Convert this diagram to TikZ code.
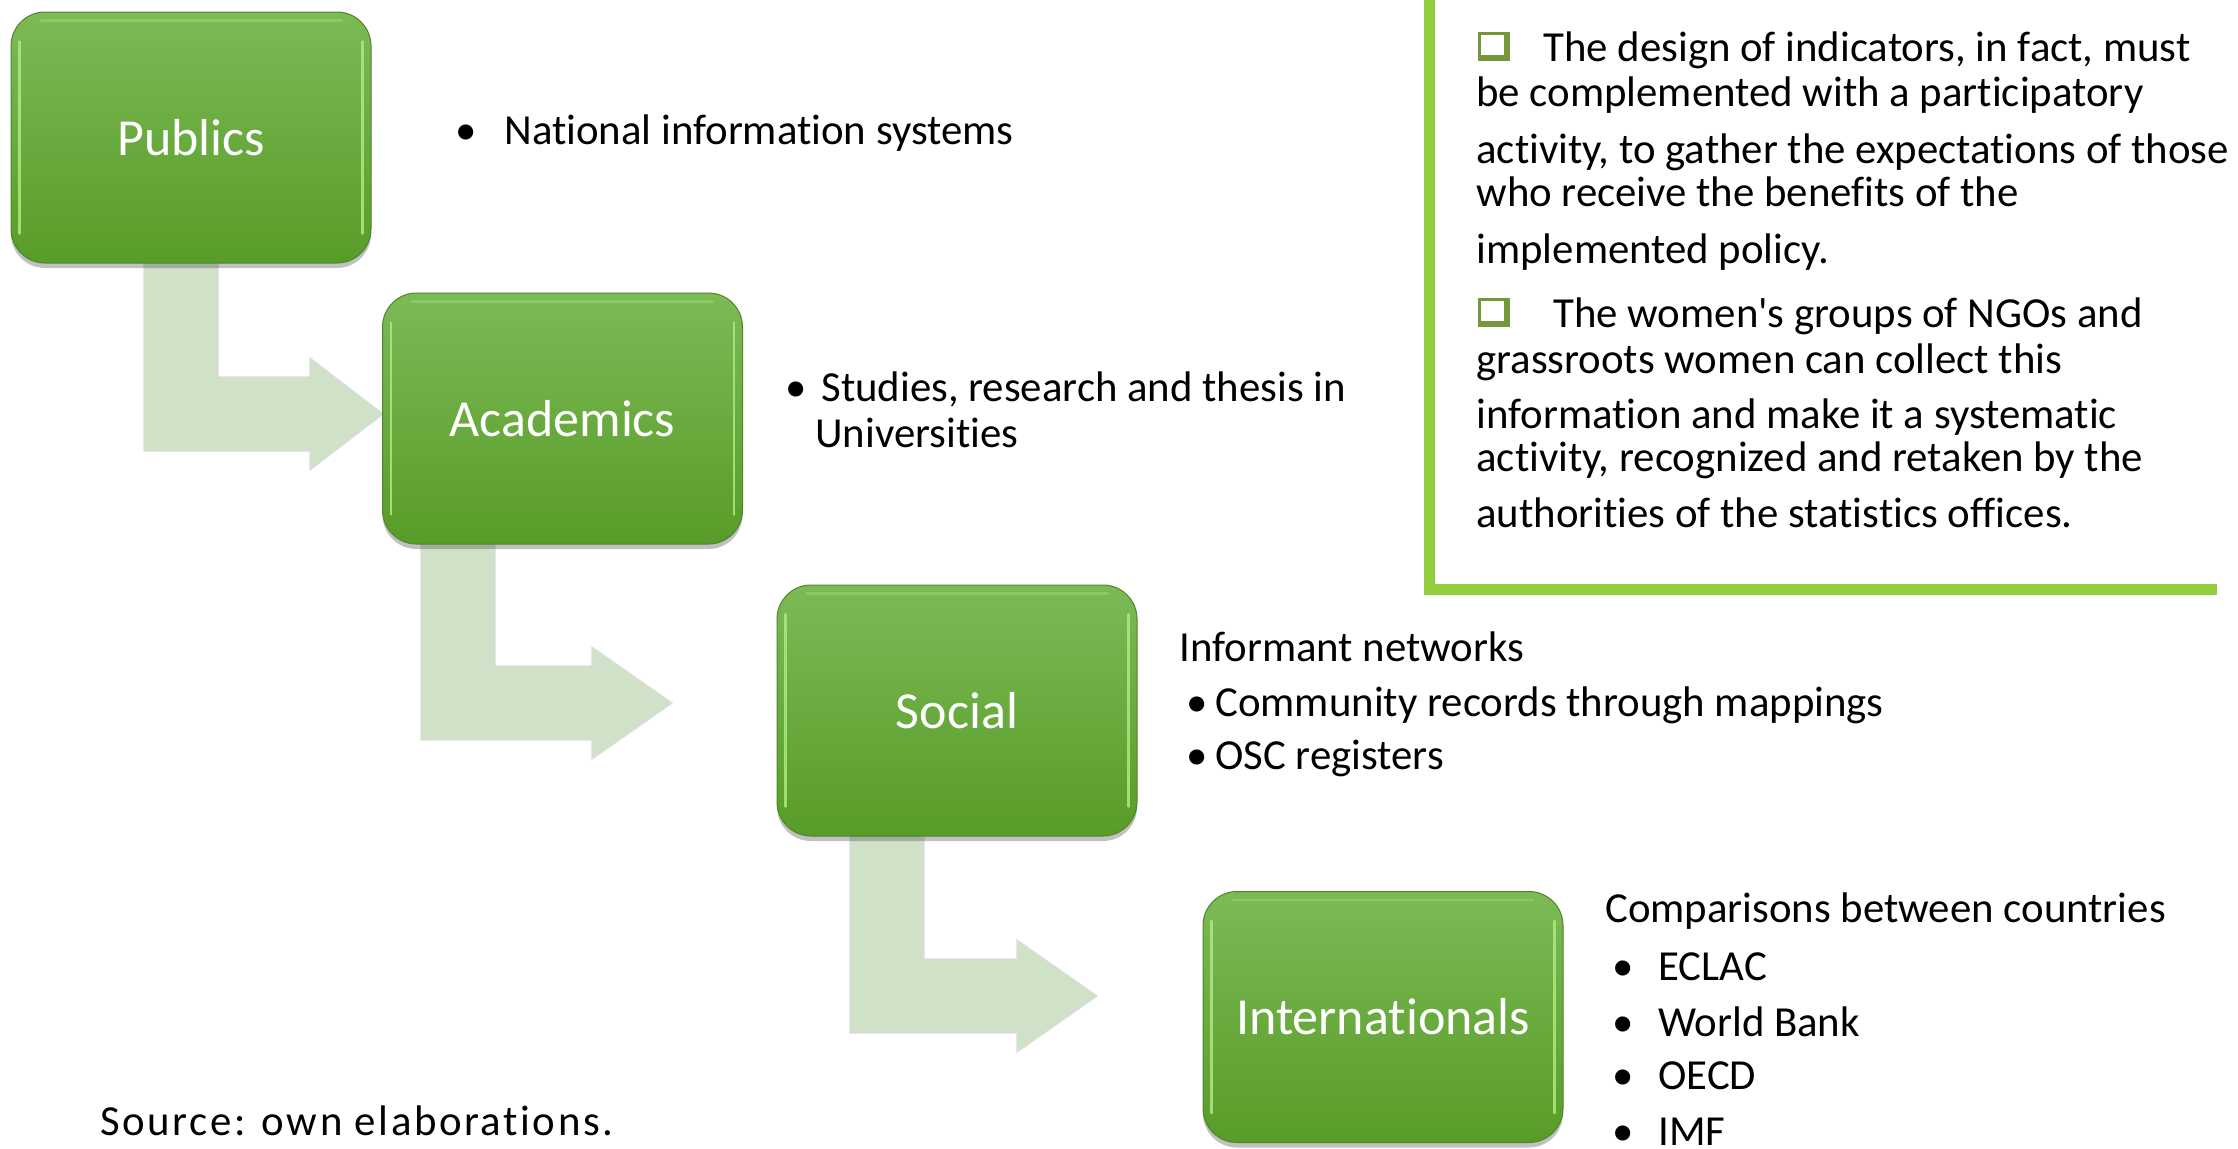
\documentclass[tikz,border=0pt]{standalone}
\usepackage{fontspec}
\setmainfont{Carlito}[Ligatures={NoCommon,NoContextual},RawFeature={-liga;-clig}]
\usetikzlibrary{shadows,calc}

\definecolor{boxtop}{RGB}{124,186,86}
\definecolor{boxbot}{RGB}{88,156,40}
\definecolor{boxedge}{RGB}{78,134,40}
\definecolor{bevelgreen}{RGB}{176,232,126}
\definecolor{arrowfill}{RGB}{207,226,200}
\definecolor{framegreen}{RGB}{146,205,60}
\definecolor{checkolive}{RGB}{118,150,58}

% bent "flow" arrow: shaft left x, shaft top y, head centre y, tip x, head length
\newcommand{\bentarrow}[5]{%
  \draw[flowarrow] (#1,#2) -- (#1+74,#2) -- (#1+74,#3-37) -- (#4-#5,#3-37)
    -- (#4-#5,#3-56) -- (#4,#3) -- (#4-#5,#3+56) -- (#4-#5,#3+37)
    -- (#1,#3+37) -- cycle;}

% shadowed check box bullet, lower-left corner given
\newcommand{\checkbullet}[3]{%
  \fill[checkolive] (#2,#3-29) rectangle (#2+32,#3);
  \fill[white] (#2+3,#3-26) rectangle (#2+26,#3-6);
  \coordinate (#1) at (#2,#3);}

\begin{document}
\begin{tikzpicture}[x=0.5pt,y=-0.5pt,
  stage/.style={rounded corners=17pt, minimum width=180pt, minimum height=125.5pt,
    top color=boxtop, bottom color=boxbot, draw=boxedge, line width=0.5pt,
    text=white, font=\fontsize{26}{30}\selectfont, inner sep=0pt,
    drop shadow={shadow xshift=0pt, shadow yshift=-2.5pt, opacity=0.35, fill=black!70}},
  bevelline/.style={draw=bevelgreen, line width=1.4pt, line cap=round, opacity=0.85},
  flowarrow/.style={fill=arrowfill, draw=black!14, line width=0.6pt},
  body/.style={anchor=base west, inner sep=0pt, font=\fontsize{21.4}{25}\selectfont},
  dot/.style={anchor=base west, inner sep=0pt, font=\fontsize{21.4}{25}\selectfont}]

\useasboundingbox (0,0) rectangle (2238,1148);
\clip (0,0) rectangle (2238,1148);

% connecting arrows (under the boxes)
\bentarrow{144}{240}{414}{383}{73}
\bentarrow{421}{520}{703}{672}{80}
\bentarrow{850}{820}{996}{1097}{80}

% the four stages
\node[stage] (pub) at (191,137.5) {Publics};
\node[stage] (aca) at (562.5,418.5) {Academics};
\node[stage] (soc) at (957,710.5) {Social};
\node[stage] (int) at (1383,1017) {Internationals};
% bevel highlights along the inner side edges
\foreach \n in {pub,aca,soc,int} {
  \draw[bevelline] ($(\n.north west)+(9,30)$) -- ($(\n.south west)+(9,-30)$);
  \draw[bevelline] ($(\n.north east)+(-9,30)$) -- ($(\n.south east)+(-9,-30)$);
  \draw[bevelline, opacity=0.35] ($(\n.north west)+(30,9)$) -- ($(\n.north east)+(-30,9)$);
}

% descriptions
\node[dot] (b1) at (455,144) {•};
\node[body] (t1) at (504,144) {National information systems};

\node[dot] (b2) at (785,401) {•};
\node[body] (t2) at (821,401) {Studies, research and thesis in};
\node[body] (t2b) at (815,447) {Universities};

\node[body] (t3) at (1179,661) {Informant networks};
\node[dot] (b3a) at (1186,716) {•};
\node[body] (t3a) at (1215,716) {Community records through mappings};
\node[dot] (b3b) at (1186,769) {•};
\node[body] (t3b) at (1215,769) {OSC registers};

\node[body] (t4) at (1605,922) {Comparisons between countries};
\node[dot] (b4a) at (1612,980) {•};
\node[body] (t4a) at (1658,980) {ECLAC};
\node[dot] (b4b) at (1612,1036) {•};
\node[body] (t4b) at (1658,1036) {World Bank};
\node[dot] (b4c) at (1612,1089) {•};
\node[body] (t4c) at (1658,1089) {OECD};
\node[dot] (b4d) at (1612,1145) {•};
\node[body] (t4d) at (1658,1145) {IMF};

% framed note on the right
\draw[framegreen, line width=5.5pt] (1429.5,-10) -- (1429.5,589.5) -- (2217,589.5);
\checkbullet{cb1}{1478}{61}
\node[body] (n1) at (1543,61) {The design of indicators, in fact, must};
\node[body] (n2) at (1476,106) {be complemented with a participatory};
\node[body] (n3) at (1476,163) {activity, to gather the expectations of those};
\node[body] (n4) at (1476,206) {who receive the benefits of the};
\node[body] (n5) at (1476,263) {implemented policy.};
\checkbullet{cb2}{1478}{327}
\node[body] (n6) at (1553,327) {The women\textquotesingle s groups of NGOs and};
\node[body] (n7) at (1476,373) {grassroots women can collect this};
\node[body] (n8) at (1476,428) {information and make it a systematic};
\node[body] (n9) at (1476,471) {activity, recognized and retaken by the};
\node[body] (n10) at (1476,527) {authorities of the statistics offices.};

% source line
\node[body, font=\fontsize{21.4}{25}\selectfont\addfontfeature{LetterSpace=6}] (src) at (100,1135) {Source: own elaborations.};
\end{tikzpicture}
\end{document}
